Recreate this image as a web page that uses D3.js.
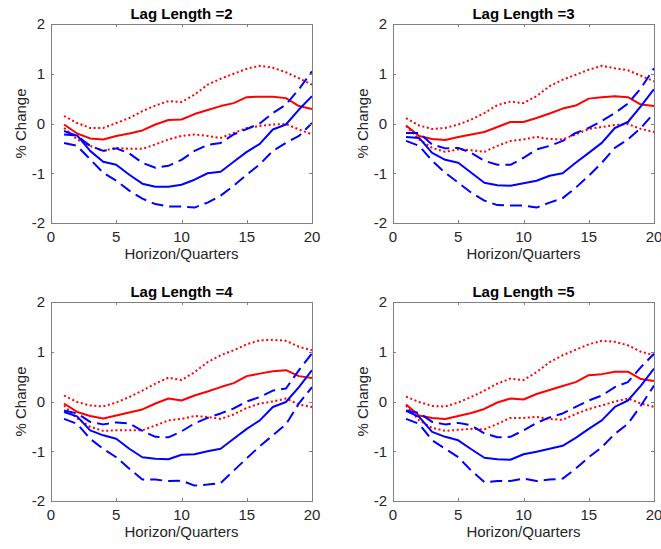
<!DOCTYPE html>
<html>
<head>
<meta charset="utf-8">
<script src="https://cdn.jsdelivr.net/npm/d3@7"></script>
<style>
  body { margin: 0; background: #fff; }
  svg { display: block; font-family: "Liberation Sans", Arial, Helvetica, sans-serif; }
  .tick-label { font-size: 15px; fill: #262626; }
  .title { font-size: 15px; font-weight: bold; fill: #000; }
  .axis-label { font-size: 15px; fill: #262626; }
</style>
</head>
<body>
<div id="chart"></div>
<script>
const horizon = [1, 2, 3, 4, 5, 6, 7, 8, 9, 10, 11, 12, 13, 14, 15, 16, 17, 18, 19, 20];
const lagLengths = [2, 3, 4, 5];
const xTicks = [0, 5, 10, 15, 20];
const yTicks = [-2, -1, 0, 1, 2];

// lag length 2
const redMid2 = [-0.02, -0.2, -0.3, -0.32, -0.25, -0.2, -0.14, -0.02, 0.07, 0.08, 0.19, 0.27, 0.35, 0.41, 0.53, 0.54, 0.54, 0.51, 0.35, 0.29];
const redUp2 = [0.15, 0.01, -0.09, -0.09, 0.01, 0.11, 0.25, 0.36, 0.45, 0.43, 0.58, 0.78, 0.9, 1.0, 1.1, 1.16, 1.12, 1.03, 0.91, 0.78];
const redLo2 = [-0.09, -0.32, -0.45, -0.55, -0.49, -0.51, -0.51, -0.42, -0.32, -0.25, -0.22, -0.25, -0.29, -0.19, -0.09, -0.05, -0.02, -0.01, -0.12, -0.22];
const blueMid2 = [-0.22, -0.24, -0.55, -0.77, -0.83, -1.03, -1.21, -1.27, -1.27, -1.23, -1.13, -1.0, -0.97, -0.77, -0.57, -0.41, -0.12, -0.02, 0.28, 0.55];
const blueUp2 = [-0.15, -0.25, -0.45, -0.55, -0.5, -0.6, -0.79, -0.89, -0.85, -0.73, -0.55, -0.43, -0.39, -0.22, -0.11, 0.0, 0.21, 0.38, 0.69, 1.05];
const blueLo2 = [-0.39, -0.45, -0.72, -0.99, -1.15, -1.35, -1.51, -1.62, -1.67, -1.67, -1.69, -1.59, -1.45, -1.25, -1.03, -0.82, -0.55, -0.39, -0.25, 0.01];

// lag length 3
const redMid3 = [-0.04, -0.25, -0.31, -0.33, -0.27, -0.22, -0.17, -0.07, 0.03, 0.03, 0.11, 0.2, 0.3, 0.36, 0.5, 0.53, 0.55, 0.53, 0.38, 0.35];
const redUp3 = [0.11, -0.04, -0.11, -0.09, -0.02, 0.08, 0.21, 0.37, 0.44, 0.41, 0.55, 0.75, 0.88, 0.98, 1.08, 1.16, 1.11, 1.07, 0.96, 0.85];
const redLo3 = [-0.05, -0.32, -0.49, -0.57, -0.52, -0.54, -0.57, -0.45, -0.35, -0.32, -0.27, -0.31, -0.32, -0.22, -0.11, -0.07, -0.03, -0.01, -0.11, -0.17];
const blueMid3 = [-0.27, -0.29, -0.59, -0.73, -0.79, -0.99, -1.19, -1.24, -1.25, -1.2, -1.15, -1.05, -1.0, -0.79, -0.59, -0.39, -0.09, 0.03, 0.35, 0.69];
const blueUp3 = [-0.19, -0.19, -0.42, -0.5, -0.49, -0.59, -0.75, -0.83, -0.83, -0.69, -0.52, -0.45, -0.35, -0.19, -0.09, 0.05, 0.21, 0.4, 0.71, 1.11];
const blueLo3 = [-0.35, -0.45, -0.75, -0.99, -1.19, -1.39, -1.55, -1.64, -1.65, -1.65, -1.69, -1.59, -1.5, -1.29, -1.05, -0.79, -0.49, -0.32, -0.09, 0.21];

// lag length 4
const redMid4 = [-0.04, -0.21, -0.29, -0.34, -0.28, -0.22, -0.16, -0.04, 0.06, 0.02, 0.12, 0.2, 0.29, 0.37, 0.51, 0.56, 0.61, 0.63, 0.51, 0.47];
const redUp4 = [0.12, -0.01, -0.08, -0.1, -0.02, 0.09, 0.22, 0.36, 0.48, 0.43, 0.59, 0.79, 0.93, 1.03, 1.15, 1.23, 1.24, 1.22, 1.1, 1.03];
const redLo4 = [-0.08, -0.34, -0.51, -0.59, -0.58, -0.58, -0.58, -0.48, -0.38, -0.35, -0.29, -0.31, -0.35, -0.26, -0.13, -0.04, 0.0, 0.06, -0.06, -0.11];
const blueMid4 = [-0.21, -0.3, -0.58, -0.68, -0.75, -0.95, -1.12, -1.15, -1.16, -1.07, -1.06, -1.0, -0.95, -0.75, -0.55, -0.38, -0.11, -0.01, 0.29, 0.63];
const blueUp4 = [-0.18, -0.24, -0.41, -0.46, -0.42, -0.44, -0.59, -0.71, -0.72, -0.6, -0.44, -0.33, -0.24, -0.14, 0.0, 0.09, 0.22, 0.26, 0.63, 0.97];
const blueLo4 = [-0.35, -0.45, -0.75, -0.95, -1.12, -1.35, -1.57, -1.57, -1.6, -1.59, -1.69, -1.67, -1.64, -1.39, -1.14, -0.9, -0.68, -0.46, -0.04, 0.29];

// lag length 5
const redMid5 = [-0.06, -0.28, -0.33, -0.35, -0.29, -0.23, -0.15, -0.02, 0.06, 0.04, 0.15, 0.23, 0.31, 0.39, 0.53, 0.55, 0.6, 0.6, 0.45, 0.41];
const redUp5 = [0.1, -0.01, -0.09, -0.1, -0.02, 0.09, 0.22, 0.36, 0.46, 0.43, 0.59, 0.79, 0.93, 1.04, 1.15, 1.22, 1.2, 1.13, 1.0, 0.93];
const redLo5 = [-0.08, -0.38, -0.53, -0.59, -0.57, -0.55, -0.56, -0.45, -0.33, -0.33, -0.31, -0.35, -0.37, -0.25, -0.15, -0.08, 0.0, 0.06, -0.04, -0.11];
const blueMid5 = [-0.19, -0.31, -0.61, -0.71, -0.78, -0.96, -1.13, -1.16, -1.17, -1.06, -1.01, -0.95, -0.89, -0.73, -0.55, -0.38, -0.11, 0.02, 0.32, 0.66];
const blueUp5 = [-0.18, -0.23, -0.41, -0.46, -0.43, -0.48, -0.64, -0.72, -0.71, -0.58, -0.43, -0.32, -0.24, -0.11, 0.02, 0.12, 0.29, 0.39, 0.69, 0.96];
const blueLo5 = [-0.35, -0.45, -0.78, -0.95, -1.12, -1.39, -1.62, -1.6, -1.6, -1.55, -1.6, -1.57, -1.55, -1.35, -1.12, -0.92, -0.65, -0.45, -0.08, 0.32];

const panels = [
  { lag: lagLengths[0], series: [redUp2, redLo2, redMid2, blueUp2, blueLo2, blueMid2] },
  { lag: lagLengths[1], series: [redUp3, redLo3, redMid3, blueUp3, blueLo3, blueMid3] },
  { lag: lagLengths[2], series: [redUp4, redLo4, redMid4, blueUp4, blueLo4, blueMid4] },
  { lag: lagLengths[3], series: [redUp5, redLo5, redMid5, blueUp5, blueLo5, blueMid5] }
];

// stroke style per series slot
const styles = [
  { color: "#ff0000", dash: "2,2.6", width: 2 },
  { color: "#ff0000", dash: "2,2.6", width: 2 },
  { color: "#ff0000", dash: null, width: 2 },
  { color: "#0000ff", dash: "12,6", width: 2 },
  { color: "#0000ff", dash: "12,6", width: 2 },
  { color: "#0000ff", dash: null, width: 2 }
];

const W = 661, H = 549;
const pw = 261, ph = 199;
const origins = [[51, 24], [393, 24], [51, 302], [393, 302]];

const svg = d3.select("#chart").append("svg")
  .attr("width", W).attr("height", H);

const x = d3.scaleLinear().domain([0, 20]).range([0, pw]);
const y = d3.scaleLinear().domain([-2, 2]).range([ph, 0]);
const tickLen = 3;

panels.forEach((p, i) => {
  const [ox, oy] = origins[i];
  const g = svg.append("g").attr("transform", `translate(${ox},${oy})`);

  g.append("defs").append("clipPath").attr("id", "clip" + i)
    .append("rect").attr("width", pw).attr("height", ph);

  const line = d3.line().x((d, j) => x(horizon[j])).y(d => y(d));
  const plot = g.append("g").attr("clip-path", `url(#clip${i})`);
  p.series.forEach((s, k) => {
    const st = styles[k];
    plot.append("path")
      .datum(s)
      .attr("d", line)
      .attr("fill", "none")
      .attr("stroke", st.color)
      .attr("stroke-width", st.width)
      .attr("stroke-dasharray", st.dash)
      .attr("stroke-linejoin", "round");
  });

  // box and inward ticks
  g.append("rect").attr("x", 0.5).attr("y", 0.5).attr("width", pw).attr("height", ph)
    .attr("fill", "none").attr("stroke", "#808080").attr("stroke-width", 1);

  xTicks.forEach(t => {
    const xp = Math.round(x(t)) + 0.5;
    g.append("line").attr("x1", xp).attr("x2", xp).attr("y1", ph).attr("y2", ph - tickLen).attr("stroke", "#808080");
    g.append("line").attr("x1", xp).attr("x2", xp).attr("y1", 0).attr("y2", tickLen).attr("stroke", "#808080");
    g.append("text").attr("class", "tick-label")
      .attr("x", x(t)).attr("y", ph + 19).attr("text-anchor", "middle").text(t);
  });
  yTicks.forEach(t => {
    const yp = Math.round(y(t)) + 0.5;
    g.append("line").attr("x1", 0).attr("x2", tickLen).attr("y1", yp).attr("y2", yp).attr("stroke", "#808080");
    g.append("line").attr("x1", pw).attr("x2", pw - tickLen).attr("y1", yp).attr("y2", yp).attr("stroke", "#808080");
    g.append("text").attr("class", "tick-label")
      .attr("x", -6).attr("y", y(t)).attr("dy", "0.36em").attr("text-anchor", "end").text(t);
  });

  g.append("text").attr("class", "title")
    .attr("x", pw / 2).attr("y", -5).attr("text-anchor", "middle")
    .text("Lag Length =" + p.lag);

  g.append("text").attr("class", "axis-label")
    .attr("x", pw / 2).attr("y", ph + 36).attr("text-anchor", "middle")
    .text("Horizon/Quarters");

  g.append("text").attr("class", "axis-label")
    .attr("transform", `translate(-25,${ph / 2}) rotate(-90)`)
    .attr("text-anchor", "middle")
    .text("% Change");
});
</script>
</body>
</html>
